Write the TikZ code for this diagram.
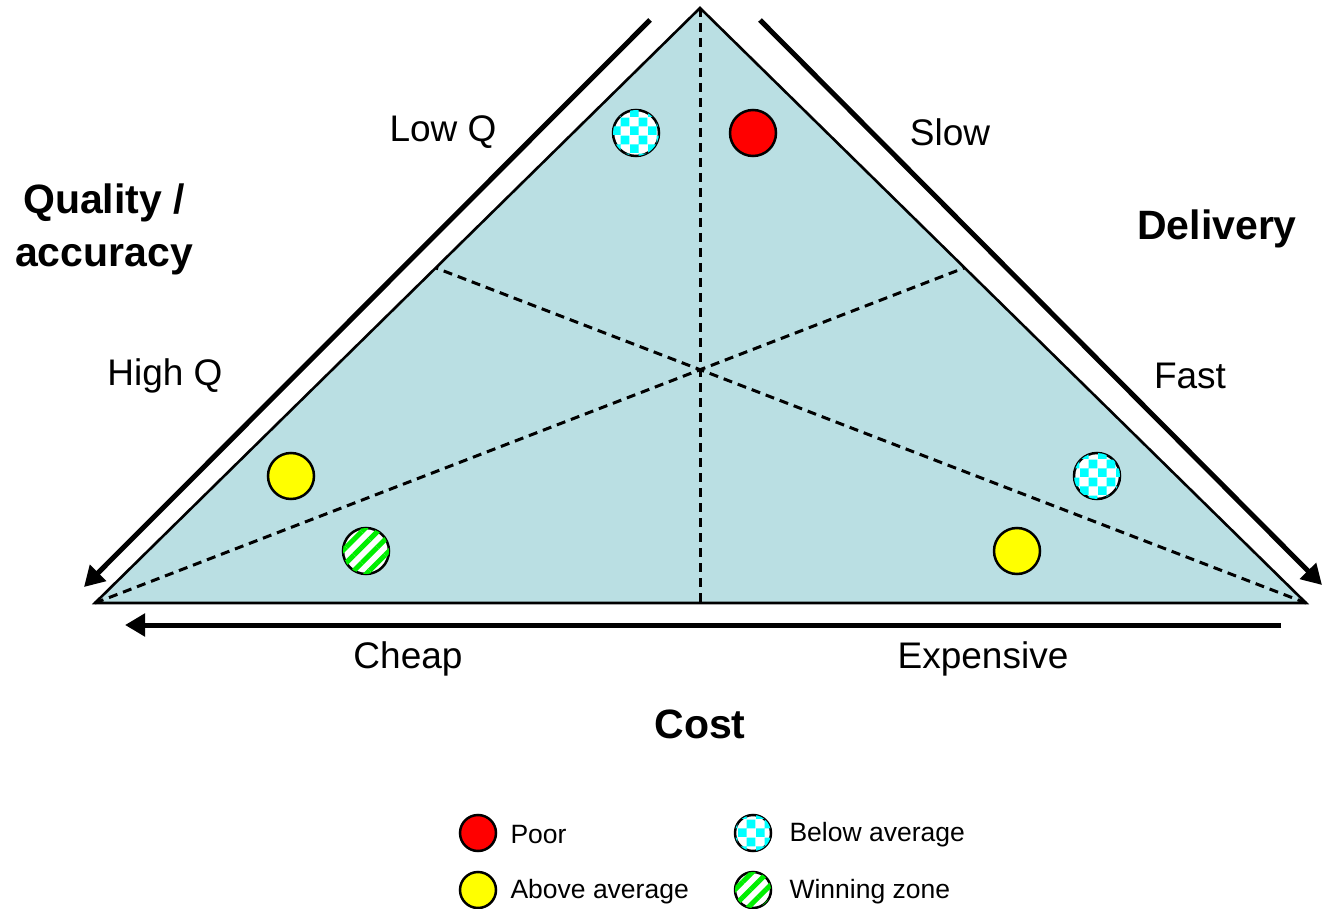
\documentclass[tikz,border=0pt]{standalone}
\usepackage{fontspec}
\setmainfont{Liberation Sans}
\usetikzlibrary{arrows.meta,patterns,patterns.meta}
\pgfdeclarepatternformonly{mychecker}{\pgfpointorigin}{\pgfqpoint{18pt}{18pt}}{\pgfqpoint{18pt}{18pt}}{%
  \pgfpathrectangle{\pgfpointorigin}{\pgfqpoint{9pt}{9pt}}%
  \pgfpathrectangle{\pgfqpoint{9pt}{9pt}}{\pgfqpoint{9pt}{9pt}}%
  \pgfusepath{fill}}
\definecolor{tri}{HTML}{BADFE3}
\definecolor{chk}{HTML}{00FFFF}
\definecolor{grn}{HTML}{00EE00}
\definecolor{yel}{HTML}{FFFF00}
\definecolor{redc}{HTML}{FF0000}
\tikzset{
  bigarrow/.style={line width=5pt,-{Triangle[length=20pt,width=22pt]}},
  divline/.style={line width=3pt,dash pattern=on 9pt off 6pt},
  dot/.style={circle,draw=black,line width=2.5pt,minimum size=46pt,inner sep=0pt},
  ldot/.style={circle,draw=black,line width=2.5pt,minimum size=36pt,inner sep=0pt},
  poor/.style={fill=redc},
  above/.style={fill=yel},
  below/.style={fill=white,postaction={pattern=mychecker,pattern color=chk}},
  win/.style={fill=white,postaction={pattern={Lines[angle=45,distance=11pt,line width=5pt]},pattern color=grn}},
  lbl/.style={font=\fontsize{37}{40}\selectfont},
  blbl/.style={font=\fontsize{41}{53}\selectfont\bfseries,align=center},
  leg/.style={font=\fontsize{26.5}{30}\selectfont,anchor=west}
}
\begin{document}
\begin{tikzpicture}[x=1pt,y=-1pt]
\useasboundingbox (0,0) rectangle (1323,909);
% triangle
\coordinate (A) at (700,8);
\coordinate (L) at (95,603);
\coordinate (R) at (1306,603);
\coordinate (M) at (700,603);
\coordinate (PL) at (436,268);
\coordinate (PR) at (964,268);
\fill[tri] (A) -- (L) -- (R) -- cycle;
\draw[divline] (A) -- (M);
\draw[divline] (L) -- (PR);
\draw[divline] (R) -- (PL);
\draw[line width=2.6pt,line join=miter] (A) -- (L) -- (R) -- cycle;
% arrows
\coordinate (a1s) at (650,20);
\coordinate (a1e) at (84,587);
\coordinate (a2s) at (760,20);
\coordinate (a2e) at (1322,585);
\coordinate (a3s) at (1281,625);
\coordinate (a3e) at (125,625);
\draw[bigarrow] (a1s) -- (a1e);
\draw[bigarrow] (a2s) -- (a2e);
\draw[bigarrow] (a3s) -- (a3e);
% dots
\node[dot,below] (d1) at (636,133) {};
\node[dot,poor] (d2) at (753,133) {};
\node[dot,above] (d3) at (291,476) {};
\node[dot,win] (d4) at (366,551) {};
\node[dot,below] (d5) at (1097,476) {};
\node[dot,above] (d6) at (1017,551) {};
% labels
\node[lbl] (lowq) at (443,132) {Low Q};
\node[lbl] (slow) at (950,132) {Slow};
\node[lbl] (highq) at (165,376) {High Q};
\node[lbl] (fast) at (1190,376) {Fast};
\node[lbl] (cheap) at (408,659) {Cheap};
\node[lbl] (exp) at (983,659) {Expensive};
\node[blbl] (qual) at (104,229) {Quality /\\accuracy};
\node[blbl] (deliv) at (1217,229) {Delivery};
\node[blbl] (cost) at (700,724) {Cost};
% legend
\node[ldot,poor] (l1) at (478,833) {};
\node[ldot,above] (l2) at (478,890) {};
\node[ldot,below] (l3) at (753,833) {};
\node[ldot,win] (l4) at (753,890) {};
\node[leg] (t1) at (507,835) {Poor};
\node[leg] (t2) at (507,892) {Above average};
\node[leg] (t3) at (786,835) {Below average};
\node[leg] (t4) at (786,892) {Winning zone};
\end{tikzpicture}
\end{document}
